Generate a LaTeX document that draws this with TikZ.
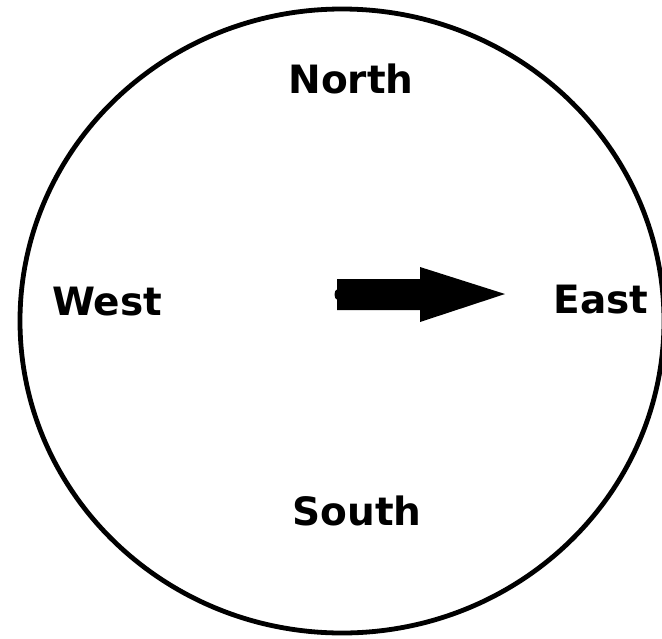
\documentclass[tikz,border=0pt]{standalone}
\usepackage{fontspec}
\setmainfont{DejaVu Sans}
\begin{document}
\begin{tikzpicture}[x=1pt,y=-1pt,
  dirlabel/.style={font=\fontsize{39}{44}\selectfont\bfseries, inner sep=0pt, anchor=base}]
\useasboundingbox (0,0) rectangle (662,638);
\clip (0,0) rectangle (662,638);
\draw[line width=4.8pt] (342,321) ellipse [x radius=322, y radius=312];
\node[dirlabel] (north) at (351,93) {North};
\node[dirlabel] (south) at (357,525) {South};
\node[dirlabel] (west) at (107,315) {West};
\node[dirlabel] (east) at (601,313) {East};
\fill (337,279) -- (420,279) -- (420,267) -- (505,294) -- (420,322) -- (420,310) -- (337,310) -- cycle;
\fill (337,294.5) ellipse [x radius=2.5, y radius=5];
\end{tikzpicture}
\end{document}
